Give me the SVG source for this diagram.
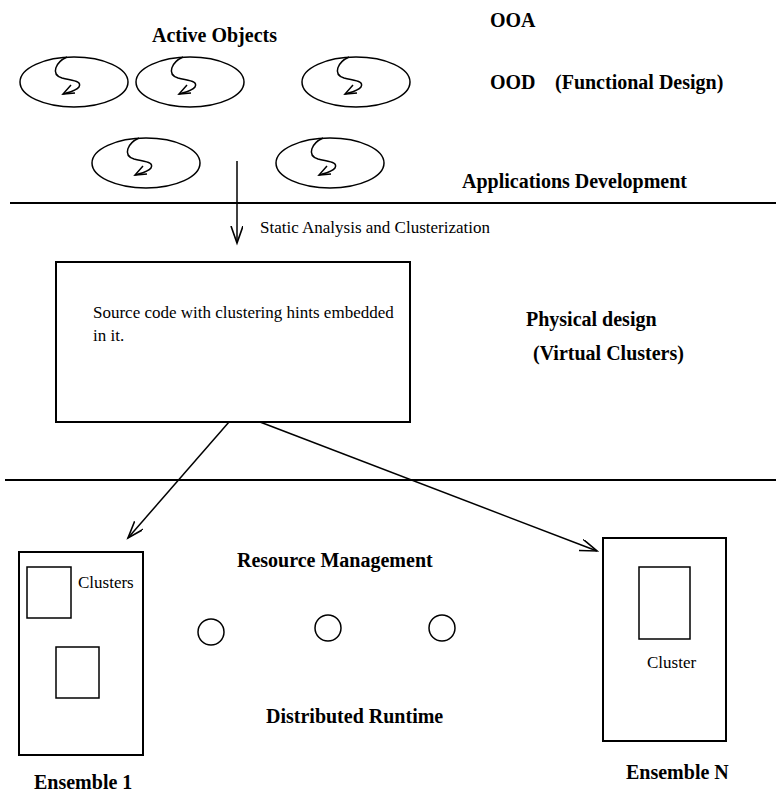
<svg xmlns="http://www.w3.org/2000/svg" xmlns:xlink="http://www.w3.org/1999/xlink" width="776" height="796" viewBox="0 0 776 796">
  <style>
    .hd { font-family: "Liberation Serif", "Times New Roman", serif; font-weight: bold; font-size: 20px; fill: #000; }
    .tx { font-family: "Liberation Serif", "Times New Roman", serif; font-size: 17px; fill: #000; }
    .ln { fill: none; stroke: #000; stroke-width: 1.5; }
    .sep { fill: none; stroke: #000; stroke-width: 2.2; }
    .box { fill: #fff; stroke: #000; stroke-width: 2; }
    .sub { fill: #fff; stroke: #000; stroke-width: 1.5; }
  </style>
  <defs>
    <marker id="openArrow" markerUnits="userSpaceOnUse" markerWidth="20" markerHeight="14" refX="17" refY="6" orient="auto">
      <path d="M0,0 L17,6 L0,12" fill="none" stroke="#000" stroke-width="1.6"/>
    </marker>
    <!-- active object: ellipse with a thread squiggle -->
    <g id="activeObj">
      <ellipse cx="0" cy="0" rx="54" ry="25" class="ln"/>
      <path d="M-7,-25 C-18,-20 -24,-8 -12,-4 C0,-1 8,-1 5,5 C2,9 -4,10 -11,12" class="ln"/>
      <path d="M-3,3 L-11,12 L1,11" class="ln"/>
    </g>
  </defs>

  <!-- headings and layer labels -->
  <text class="hd" x="152" y="42">Active Objects</text>
  <text class="hd" x="490" y="27">OOA</text>
  <text class="hd" x="490" y="89">OOD</text>
  <text class="hd" x="555" y="89">(Functional Design)</text>
  <text class="hd" x="462" y="188">Applications Development</text>
  <text class="hd" x="526" y="326">Physical design</text>
  <text class="hd" x="533" y="360">(Virtual Clusters)</text>
  <text class="hd" x="237" y="567">Resource Management</text>
  <text class="hd" x="266" y="723">Distributed Runtime</text>
  <text class="hd" x="34" y="789">Ensemble 1</text>
  <text class="hd" x="626" y="779">Ensemble N</text>

  <!-- active objects -->
  <g id="obj1"><use xlink:href="#activeObj" href="#activeObj" x="74" y="82"/></g>
  <g id="obj2"><use xlink:href="#activeObj" href="#activeObj" x="190" y="82"/></g>
  <g id="obj3"><use xlink:href="#activeObj" href="#activeObj" x="356" y="82"/></g>
  <g id="obj4"><use xlink:href="#activeObj" href="#activeObj" x="146" y="163"/></g>
  <g id="obj5"><use xlink:href="#activeObj" href="#activeObj" x="330" y="163"/></g>

  <!-- layer separators -->
  <line class="sep" x1="10" y1="203" x2="776" y2="203"/>
  <line class="sep" x1="5" y1="480" x2="776" y2="480"/>

  <!-- source code box -->
  <g id="sourceCode">
    <rect class="box" x="56" y="262" width="354" height="160"/>
    <text class="tx" x="93" y="318">Source code with clustering hints embedded</text>
    <text class="tx" x="93" y="341">in it.</text>
  </g>

  <!-- ensembles -->
  <g id="ensemble1">
    <rect class="box" x="19" y="552" width="124" height="203"/>
    <rect class="sub" x="27" y="567" width="44" height="51"/>
    <rect class="sub" x="56" y="647" width="43" height="51"/>
    <text class="tx" x="78" y="588">Clusters</text>
  </g>
  <g id="ensembleN">
    <rect class="box" x="603" y="538" width="123" height="203"/>
    <rect class="sub" x="639" y="567" width="51" height="72"/>
    <text class="tx" x="647" y="668">Cluster</text>
  </g>

  <!-- resource nodes -->
  <g id="res1"><circle class="ln" cx="211" cy="632" r="13"/></g>
  <g id="res2"><circle class="ln" cx="328" cy="628" r="13"/></g>
  <g id="res3"><circle class="ln" cx="442" cy="628" r="13"/></g>

  <!-- connectors -->
  <g id="connectors">
    <line class="ln" x1="237" y1="161" x2="237" y2="243" marker-end="url(#openArrow)"/>
    <text class="tx" x="260" y="233">Static Analysis and Clusterization</text>
    <line class="ln" x1="229" y1="422" x2="128" y2="538" marker-end="url(#openArrow)"/>
    <line class="ln" x1="260" y1="422" x2="597" y2="551" marker-end="url(#openArrow)"/>
  </g>
</svg>
